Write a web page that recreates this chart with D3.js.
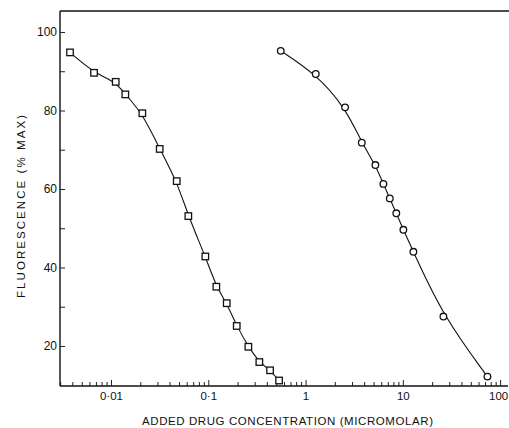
<!DOCTYPE html>
<html>
<head>
<meta charset="utf-8">
<script src="https://cdn.jsdelivr.net/npm/d3@7"></script>
<style>
  html, body { margin: 0; padding: 0; background: #fff; }
  svg { display: block; }
  text { font-family: "Liberation Sans", Arial, sans-serif; fill: #111; }
</style>
</head>
<body>
<svg></svg>
<script>
// squares (left curve)
const squareConc = [0.00379, 0.00669, 0.01118, 0.01403, 0.02099, 0.03167, 0.04739, 0.06236,
  0.09327, 0.1210, 0.1547, 0.1961, 0.2582, 0.3348, 0.4315, 0.5340];
const squareFluor = [94.8, 89.6, 87.3, 84.1, 79.3, 70.2, 62.0, 53.1,
  42.8, 35.1, 30.9, 25.1, 19.8, 15.9, 13.8, 11.2];

// circles (right curve)
const circleConc = [0.5559, 1.273, 2.548, 3.784, 5.221, 6.310, 7.341, 8.563, 10.13, 12.84, 26.12, 74.05];
const circleFluor = [95.2, 89.3, 80.8, 71.8, 66.1, 61.3, 57.6, 53.8, 49.6, 44.0, 27.5, 12.2];

const xMajorTicks = [0.01, 0.1, 1, 10, 100];
const xTickLabels = ['0·01', '0·1', '1', '10', '100'];
const xMinorTicks = [0.003, 0.004, 0.005, 0.006, 0.007, 0.008, 0.009,
  0.02, 0.03, 0.04, 0.05, 0.06, 0.07, 0.08, 0.09,
  0.2, 0.3, 0.4, 0.5, 0.6, 0.7, 0.8, 0.9,
  2, 3, 4, 5, 6, 7, 8, 9,
  20, 30, 40, 50, 60, 70, 80, 90];
const yMajorTicks = [20, 40, 60, 80, 100];
const yMinorTicks = [30, 50, 70, 90];

const width = 509;
const height = 428;
const plotLeft = 60, plotRight = 508, plotTop = 11, plotBottom = 386;

const svg = d3.select('svg')
  .attr('width', width)
  .attr('height', height);

const x = d3.scaleLog().domain([0.00299, 120.5]).range([plotLeft, plotRight]);
const y = d3.scaleLinear().domain([9.8, 105.35]).range([plotBottom, plotTop]);

// top frame line
svg.append('line')
  .attr('x1', plotLeft).attr('x2', width)
  .attr('y1', plotTop).attr('y2', plotTop)
  .attr('stroke', '#111').attr('stroke-width', 1.6);

// x axis: minor ticks
svg.append('g')
  .attr('transform', 'translate(0,' + plotBottom + ')')
  .call(d3.axisBottom(x).tickValues(xMinorTicks).tickSize(-4).tickSizeOuter(0).tickFormat(''))
  .call(g => g.select('.domain').remove())
  .call(g => g.selectAll('line').attr('stroke', '#222').attr('stroke-width', 1));

// x axis: major ticks with labels
svg.append('g')
  .attr('transform', 'translate(0,' + plotBottom + ')')
  .call(d3.axisBottom(x).tickValues(xMajorTicks).tickSize(-6).tickSizeOuter(0).tickPadding(6)
    .tickFormat((d, i) => xTickLabels[i]))
  .call(g => g.select('.domain').attr('d', 'M' + plotLeft + ',0H' + plotRight).attr('stroke', '#111').attr('stroke-width', 1.6))
  .call(g => g.selectAll('line').attr('stroke', '#222').attr('stroke-width', 1))
  .call(g => g.selectAll('text').style('font-size', '11.5px').style('font-family', '"Liberation Sans", Arial, sans-serif').attr('fill', '#111'))
  .call(g => g.selectAll('text').filter(d => d === 100).attr('dx', -2));

// y axis: minor ticks
svg.append('g')
  .attr('transform', 'translate(' + plotLeft + ',0)')
  .call(d3.axisLeft(y).tickValues(yMinorTicks).tickSize(-5).tickSizeOuter(0).tickFormat(''))
  .call(g => g.select('.domain').remove())
  .call(g => g.selectAll('line').attr('stroke', '#222').attr('stroke-width', 1));

// y axis: major ticks with labels
svg.append('g')
  .attr('transform', 'translate(' + plotLeft + ',0)')
  .call(d3.axisLeft(y).tickValues(yMajorTicks).tickSize(-5).tickSizeOuter(0).tickPadding(3))
  .call(g => g.select('.domain').attr('d', 'M0,' + plotTop + 'V' + plotBottom).attr('stroke', '#111').attr('stroke-width', 1.4))
  .call(g => g.selectAll('line').attr('stroke', '#222').attr('stroke-width', 1))
  .call(g => g.selectAll('text').style('font-size', '12px').style('font-family', '"Liberation Sans", Arial, sans-serif').attr('fill', '#111'));

// axis titles
svg.append('text')
  .attr('x', 142).attr('y', 425)
  .attr('textLength', 291).attr('lengthAdjust', 'spacing')
  .style('font-size', '11.5px')
  .text('ADDED DRUG CONCENTRATION (MICROMOLAR)');

svg.append('text')
  .attr('transform', 'translate(25,298) rotate(-90)')
  .attr('x', 0).attr('y', 0)
  .attr('textLength', 183).attr('lengthAdjust', 'spacing')
  .style('font-size', '11.5px')
  .text('FLUORESCENCE (% MAX)');

const squares = squareConc.map((c, i) => ({ c: c, f: squareFluor[i] }));
const circles = circleConc.map((c, i) => ({ c: c, f: circleFluor[i] }));

const line = d3.line()
  .x(d => x(d.c))
  .y(d => y(d.f))
  .curve(d3.curveBasis);

svg.append('path')
  .datum(squares)
  .attr('d', line)
  .attr('fill', 'none').attr('stroke', '#111').attr('stroke-width', 1.1);

svg.append('path')
  .datum(circles)
  .attr('d', line)
  .attr('fill', 'none').attr('stroke', '#111').attr('stroke-width', 1.1);

const sq = 6.5;
svg.append('g').selectAll('rect')
  .data(squares)
  .enter().append('rect')
    .attr('x', d => x(d.c) - sq / 2)
    .attr('y', d => y(d.f) - sq / 2)
    .attr('width', sq).attr('height', sq)
    .attr('fill', '#fff').attr('stroke', '#111').attr('stroke-width', 1.3);

svg.append('g').selectAll('circle')
  .data(circles)
  .enter().append('circle')
    .attr('cx', d => x(d.c))
    .attr('cy', d => y(d.f))
    .attr('r', 3.3)
    .attr('fill', '#fff').attr('stroke', '#111').attr('stroke-width', 1.3);
</script>
</body>
</html>
